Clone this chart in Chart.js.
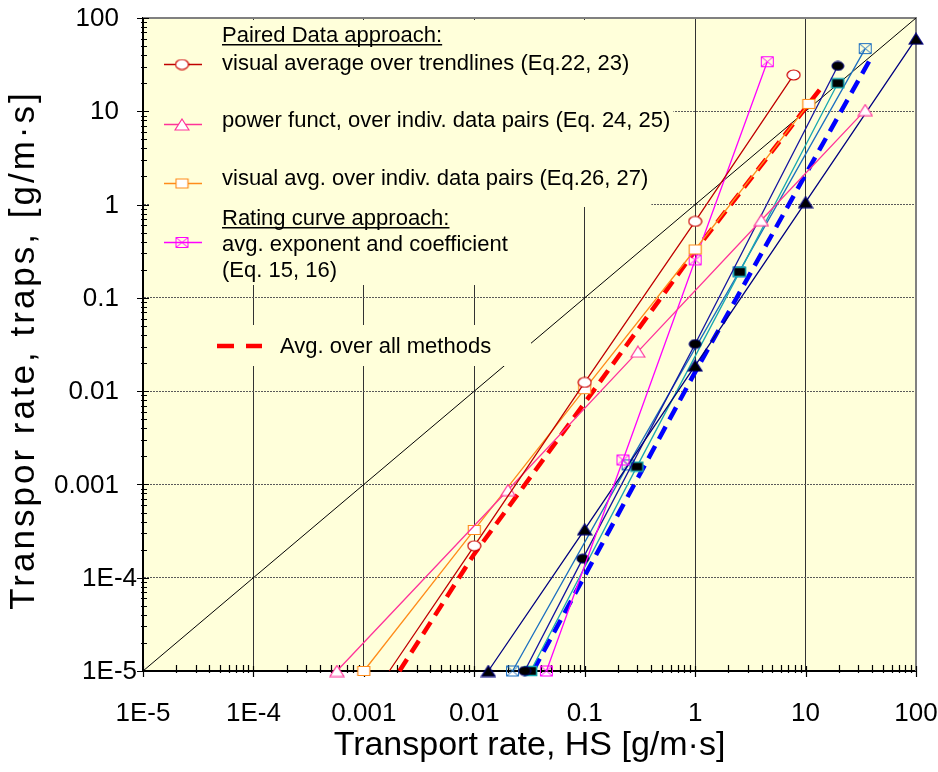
<!DOCTYPE html>
<html>
<head>
<meta charset="utf-8">
<script src="https://cdn.jsdelivr.net/npm/chart.js@4.4.1/dist/chart.umd.min.js"></script>
<style>
  html, body { margin: 0; padding: 0; background: #fff; }
  #wrap { width: 938px; height: 772px; position: relative; }
</style>
</head>
<body>
<div id="wrap"><canvas id="chart"></canvas></div>
<script>
//
// Data
//

var tickValues = [1e-5, 1e-4, 1e-3, 1e-2, 1e-1, 1, 10, 100];
var tickLabels = ['1E-5', '1E-4', '0.001', '0.01', '0.1', '1', '10', '100'];

var xTitle = 'Transport rate, HS [g/m·s]';
var yTitle = 'Transpor rate, traps, [g/m·s]';

// 1:1 line
var equalX = [1e-5, 100];
var equalY = [1e-5, 100];

// Paired data approach
var trendX = [0.0017, 0.01, 0.1, 1, 7.8];
var trendY = [1e-5, 2.2e-4, 0.0124, 0.66, 24.5];

var powerX = [5.7e-4, 0.0202, 0.303, 3.97, 34.7];
var powerY = [1e-5, 8.7e-4, 0.0265, 0.68, 10.3];

var pairsX = [0.001, 0.01, 0.1, 1, 10.7];
var pairsY = [1e-5, 3.25e-4, 0.0105, 0.33, 12];

// Rating curve approach
var ratingX = [0.045, 0.222, 1, 4.5];
var ratingY = [1e-5, 1.83e-3, 0.255, 34];

// Avg. over all methods
var avgX = [0.0021, 0.01, 0.1, 1, 13.4];
var avgY = [1e-5, 1.8e-4, 0.0075, 0.32, 17];

// second group (no legend)
var triX = [0.0134, 0.1, 1, 10, 100];
var triY = [1e-5, 3.3e-4, 0.0188, 1.06, 60];

var dotX = [0.0286, 0.096, 1, 19.6];
var dotY = [1e-5, 1.6e-4, 0.032, 30.6];

var sqX = [0.0324, 0.297, 2.53, 19.6];
var sqY = [1e-5, 1.55e-3, 0.19, 20];

var boxX = [0.0222, 0.247, 2.5, 34.7];
var boxY = [1e-5, 1.62e-3, 0.19, 47];

var avg2X = [0.034, 0.3, 1, 10, 39];
var avg2Y = [1e-5, 1.15e-3, 0.016, 2.1, 37];


//
// Methods
//

function pts(xs, ys) {
	return xs.map(function(x, i) { return {x: x, y: ys[i]}; });
}

// small canvas markers (Excel style, a bit wider than tall)
function marker(shape, w, h, fill, stroke, lw) {
	var c = document.createElement('canvas');
	c.width = w + 2;
	c.height = h + 2;
	var g = c.getContext('2d');
	g.lineWidth = lw;
	g.strokeStyle = stroke;
	g.fillStyle = fill;
	g.beginPath();
	if (shape === 'ellipse') {
		g.ellipse(c.width / 2, c.height / 2, w / 2, h / 2, 0, 0, Math.PI * 2);
	} else if (shape === 'tri') {
		g.moveTo(c.width / 2, 1);
		g.lineTo(w + 1, h + 1);
		g.lineTo(1, h + 1);
		g.closePath();
	} else {
		g.rect(1.5, 1.5, w - 1, h - 1);
	}
	if (fill) g.fill();
	g.stroke();
	if (shape === 'boxx') {
		g.beginPath();
		g.moveTo(1.5, 1.5); g.lineTo(w + 0.5, h + 0.5);
		g.moveTo(w + 0.5, 1.5); g.lineTo(1.5, h + 0.5);
		g.stroke();
	}
	return c;
}

var mRed = marker('ellipse', 13, 10, '#ffffff', '#cc0000', 1.2);
var mPink = marker('tri', 14, 11, '#ffffff', '#ff3399', 1.2);
var mOrange = marker('rect', 13, 10, '#ffffff', '#ff8c1a', 1.2);
var mMagenta = marker('boxx', 13, 11, '', '#ff00ff', 1);
var mSteel = marker('boxx', 13, 11, '', '#1c6fc0', 1);
var mTri = marker('tri', 14, 11, '#000000', '#000080', 1.2);
var mDot = marker('ellipse', 12, 9, '#000000', '#000080', 1);
var mSq = marker('rect', 13, 10, '#000000', '#19a8b0', 1.5);

function series(label, xs, ys, color, style, width, dash, hideFirst) {
	return {
		label: label,
		data: pts(xs, ys),
		showLine: true,
		borderColor: color,
		backgroundColor: color,
		borderWidth: width,
		borderDash: dash || [],
		pointStyle: style || false,
		pointRadius: xs.map(function(x, i) { return (!style || (hideFirst && i === 0)) ? 0 : 6; }),
		pointHoverRadius: 0,
		clip: 8,
		order: 0
	};
}

var fontFamily = '"Liberation Sans", Arial, sans-serif';
var legendFont = '22px ' + fontFamily;

var legendRows = [
	{text: 'Paired Data approach:', y: 42, underline: true, box: 0},
	{text: 'visual average over trendlines (Eq.22, 23)', y: 70, sampleY: 64, color: '#c00000', mk: mRed, box: 0},
	{text: 'power funct, over indiv. data pairs (Eq. 24, 25)', y: 127, sampleY: 124, color: '#ff3399', mk: mPink, box: 1},
	{text: 'visual avg. over indiv. data pairs (Eq.26, 27)', y: 185, sampleY: 183, color: '#ff8c1a', mk: mOrange, box: 2},
	{text: 'Rating curve approach:', y: 225, underline: true, box: 3},
	{text: 'avg. exponent and coefficient', y: 251, sampleY: 242, color: '#ff00ff', mk: mMagenta, box: 3},
	{text: '(Eq. 15, 16)', y: 277, box: 3}
];
var legendBoxes = [[20, 97], [97, 155], [155, 207], [207, 285]];

function drawLegend(chart) {
	var ctx = chart.ctx;
	var area = chart.chartArea;
	var tx = 222;
	ctx.save();
	ctx.font = legendFont;

	// background boxes hide the grid behind the text
	ctx.fillStyle = '#ffffda';
	legendBoxes.forEach(function(b, bi) {
		var w = 0;
		legendRows.forEach(function(r) {
			if (r.box === bi) w = Math.max(w, ctx.measureText(r.text).width);
		});
		ctx.fillRect(area.left + 6, b[0], tx + w + 3 - area.left - 6, b[1] - b[0]);
	});
	ctx.fillRect(210, 325, 321, 41);

	ctx.fillStyle = '#000';
	ctx.textBaseline = 'alphabetic';
	legendRows.forEach(function(r) {
		ctx.fillText(r.text, tx, r.y);
		if (r.underline) {
			var w = ctx.measureText(r.text).width;
			ctx.fillRect(tx, r.y + 2, w, 1.5);
		}
		if (r.color) {
			ctx.strokeStyle = r.color;
			ctx.lineWidth = 1.3;
			ctx.beginPath();
			ctx.moveTo(164, r.sampleY + 0.5);
			ctx.lineTo(202, r.sampleY + 0.5);
			ctx.stroke();
			ctx.drawImage(r.mk, 182 - r.mk.width / 2, r.sampleY + 0.5 - r.mk.height / 2);
		}
	});

	// Avg. over all methods
	ctx.strokeStyle = '#ff0000';
	ctx.lineWidth = 4.5;
	ctx.beginPath();
	ctx.moveTo(217, 346); ctx.lineTo(234, 346);
	ctx.moveTo(246, 346); ctx.lineTo(262, 346);
	ctx.stroke();
	ctx.fillText('Avg. over all methods', 280, 353);
	ctx.restore();
}

// Excel-like crossing tick marks, major and minor
function drawTicks(chart) {
	var ctx = chart.ctx;
	var xs = chart.scales.x, ys = chart.scales.y;
	var area = chart.chartArea;
	ctx.save();
	ctx.strokeStyle = '#000';
	ctx.lineWidth = 1.2;
	ctx.beginPath();
	for (var e = -5; e <= 2; e++) {
		for (var k = 1; k <= 9; k++) {
			var v = k * Math.pow(10, e);
			if (v > 100.0001) break;
			var px = Math.round(xs.getPixelForValue(v)) + 0.5;
			var py = Math.round(ys.getPixelForValue(v)) + 0.5;
			if (k === 1) {
				ctx.moveTo(px, area.bottom - 5); ctx.lineTo(px, area.bottom + 6);
				ctx.moveTo(area.left - 6, py); ctx.lineTo(area.left + 6, py);
			} else {
				ctx.moveTo(px, area.bottom - 6); ctx.lineTo(px, area.bottom + 2);
				ctx.moveTo(area.left - 2, py); ctx.lineTo(area.left + 4, py);
			}
		}
	}
	ctx.stroke();
	ctx.restore();
}

// y labels: plain numbers end nearer the axis label column than the E labels
function drawYAxisText(chart) {
	var ctx = chart.ctx;
	var ys = chart.scales.y;
	ctx.save();
	ctx.fillStyle = '#000';
	ctx.font = '26px ' + fontFamily;
	ctx.textAlign = 'right';
	ctx.textBaseline = 'middle';
	tickValues.forEach(function(v, i) {
		var label = tickLabels[i];
		var right = label.indexOf('E') >= 0 ? 137 : 119;
		ctx.fillText(label, right, ys.getPixelForValue(v) + 1);
	});

	// rotated title, Excel spreads the letters a little
	ctx.translate(24, 350);
	ctx.rotate(-Math.PI / 2);
	ctx.font = '35px ' + fontFamily;
	ctx.textAlign = 'center';
	if ('letterSpacing' in ctx) ctx.letterSpacing = '3px';
	ctx.fillText(yTitle, 0, 0);
	ctx.restore();
}

var decor = {
	id: 'decor',
	beforeDraw: function(chart) {
		var a = chart.chartArea;
		chart.ctx.save();
		chart.ctx.fillStyle = '#ffffda';
		chart.ctx.fillRect(a.left, a.top, a.right - a.left, a.bottom - a.top);
		chart.ctx.restore();
	},
	beforeDatasetsDraw: function(chart) {
		var a = chart.chartArea, ctx = chart.ctx;
		ctx.save();
		ctx.strokeStyle = '#808080';
		ctx.lineWidth = 2;
		ctx.beginPath();
		ctx.moveTo(a.left, a.top); ctx.lineTo(a.right, a.top); ctx.lineTo(a.right, a.bottom);
		ctx.stroke();
		ctx.restore();
	},
	afterDatasetDraw: function(chart, args) {
		if (args.index === 0) {
			drawLegend(chart);
			drawTicks(chart);
		}
	},
	afterDraw: function(chart) {
		drawYAxisText(chart);
	}
};

var equalLine = series('1:1', equalX, equalY, '#000000', null, 1);
equalLine.order = 10;

var $chart = document.getElementById('chart');

var rateChart = new Chart($chart, {
	type: 'scatter',
	data: {
		datasets: [
			equalLine,
			series('visual average over trendlines (Eq.22, 23)', trendX, trendY, '#c00000', mRed, 1.3, null, true),
			series('power funct, over indiv. data pairs (Eq. 24, 25)', powerX, powerY, '#ff3399', mPink, 1.3),
			series('visual avg. over indiv. data pairs (Eq.26, 27)', pairsX, pairsY, '#ff8c1a', mOrange, 1.3),
			series('avg. exponent and coefficient (Eq. 15, 16)', ratingX, ratingY, '#ff00ff', mMagenta, 1.3),
			series('Avg. over all methods', avgX, avgY, '#ff0000', null, 4.5, [14, 8]),
			series('triangles', triX, triY, '#000080', mTri, 1.3),
			series('dots', dotX, dotY, '#1414a0', mDot, 1.3),
			series('squares', sqX, sqY, '#19a8b0', mSq, 1.3),
			series('boxes', boxX, boxY, '#1c6fc0', mSteel, 1.3),
			series('avg2', avg2X, avg2Y, '#0000ff', null, 4.5, [14, 8])
		]
	},
	options: {
		responsive: true,
		maintainAspectRatio: false,
		animation: false,
		layout: { padding: { left: 0, right: 22, top: 18, bottom: 0 } },
		plugins: {
			legend: { display: false },
			tooltip: { enabled: false }
		},
		scales: {
			x: {
				type: 'logarithmic',
				min: 1e-5,
				max: 100,
				afterBuildTicks: function(scale) {
					scale.ticks = tickValues.map(function(v) { return {value: v}; });
				},
				afterFit: function(scale) {
					scale.height = 101;
					scale.paddingLeft = 0;
					scale.paddingRight = 0;
				},
				ticks: {
					autoSkip: false,
					maxRotation: 0,
					padding: 27,
					color: '#000',
					font: { family: fontFamily, size: 26 },
					callback: function(v, i) { return tickLabels[i]; }
				},
				grid: { color: '#333333', lineWidth: 1, drawTicks: false },
				border: { display: true, color: '#000', width: 2 },
				title: {
					display: true,
					text: xTitle,
					color: '#000',
					font: { family: fontFamily, size: 34 },
					padding: { top: 0, bottom: 6 }
				}
			},
			y: {
				type: 'logarithmic',
				min: 1e-5,
				max: 100,
				afterBuildTicks: function(scale) {
					scale.ticks = tickValues.map(function(v) { return {value: v}; });
				},
				afterFit: function(scale) {
					scale.width = 143;
					scale.paddingTop = 0;
					scale.paddingBottom = 0;
				},
				ticks: { display: false },
				grid: { color: '#5a5a5a', lineWidth: 1, drawTicks: false },
				border: { display: true, color: '#000', width: 2, dash: [2, 1] },
				title: { display: false }
			}
		}
	},
	plugins: [decor]
});

$chart.rateChart = rateChart;
</script>
</body>
</html>
